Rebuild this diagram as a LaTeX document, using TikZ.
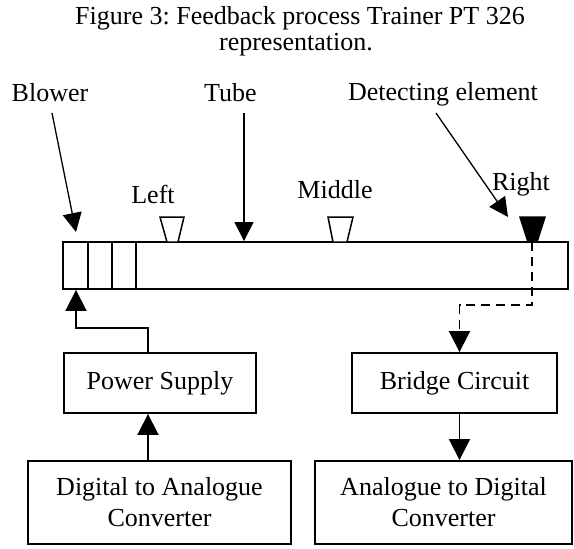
\documentclass[tikz,border=0pt]{standalone}
\usepackage{fontspec}
\setmainfont{Liberation Serif}
\usetikzlibrary{arrows.meta}
\frenchspacing
\begin{document}
\begin{tikzpicture}[x=1pt,y=-1pt,
  txt/.style={font=\fontsize{26}{31}\selectfont, inner sep=0pt},
  box/.style={draw, line width=1.9pt, rectangle, inner sep=0pt, font=\fontsize{26}{31}\selectfont, align=center},
  flow/.style={line width=1.9pt, -{Triangle[length=21pt,width=21pt]}},
  lab/.style={line width=1.3pt, -{Triangle[length=19pt,width=19pt]}},
  sensor/.style={line width=1.5pt, fill=white},
  ]
\useasboundingbox (0,0) rectangle (574,549);
% title
\node[txt, anchor=base] (t1) at (300,24) {Figure 3: Feedback process Trainer PT 326};
\node[txt, anchor=base] (t2) at (296,50) {representation.};
% labels
\node[txt,anchor=base] (bl) at (50,101) {Blower};
\node[txt,anchor=base] (tb) at (230.5,101) {Tube};
\node[txt,anchor=base] (de) at (443,100) {Detecting element};
\node[txt,anchor=base] (lf) at (153,203) {Left};
\node[txt,anchor=base] (md) at (335,198) {Middle};
\node[txt,anchor=base] (rt) at (521,190) {Right};
% tube
\node[box, minimum width=505pt, minimum height=47pt] (tube) at (315.5,265.5) {};
\foreach \x in {88,112,136} \draw[line width=1.9pt] (\x,0 |- tube.north) -- (\x,0 |- tube.south);
% sensors
\draw[sensor] (160,217) -- (184,217) -- (178,242) -- (167,242) -- cycle;
\draw[sensor] (328,217) -- (353,217) -- (347,242) -- (333,242) -- cycle;
\draw[line width=1.5pt, fill=black] (520,217) -- (545,217) -- (537,242) -- (528,242) -- cycle;
% boxes
\node[box, minimum width=192pt, minimum height=60pt] (ps) at (160,383) {Power Supply};
\node[box, minimum width=205pt, minimum height=60pt] (bc) at (454.5,383) {Bridge Circuit};
\node[box, minimum width=263pt, minimum height=83pt] (da) at (159.5,502.5) {Digital to Analogue\\Converter};
\node[box, minimum width=257pt, minimum height=83pt] (ad) at (443.5,502.5) {Analogue to Digital\\Converter};
% label arrows
\coordinate (blst) at (52,113);
\coordinate (bltip) at (76,232);
\draw[lab] (blst) -- (bltip);
\coordinate (tbs) at (244,113);
\draw[lab] (tbs) -- (tbs |- tube.north);
\coordinate (des) at (436,113);
\coordinate (det) at (508,217);
\draw[lab] (des) -- (det);
% flow
\coordinate (psx) at (148,0);
\draw[flow] (psx |- ps.north) -- ++(0,-24) -| (bltip |- tube.south);
\draw[flow] (psx |- da.north) -- (psx |- ps.south);
\coordinate (dx) at (532,242);
\coordinate (bcx) at (459.5,0);
\draw[flow, dash pattern=on 9pt off 6pt] (dx) -- (532,305) -| (bcx |- bc.north);
\draw[flow] (bcx |- bc.south) -- (bcx |- ad.north);
\end{tikzpicture}
\end{document}
